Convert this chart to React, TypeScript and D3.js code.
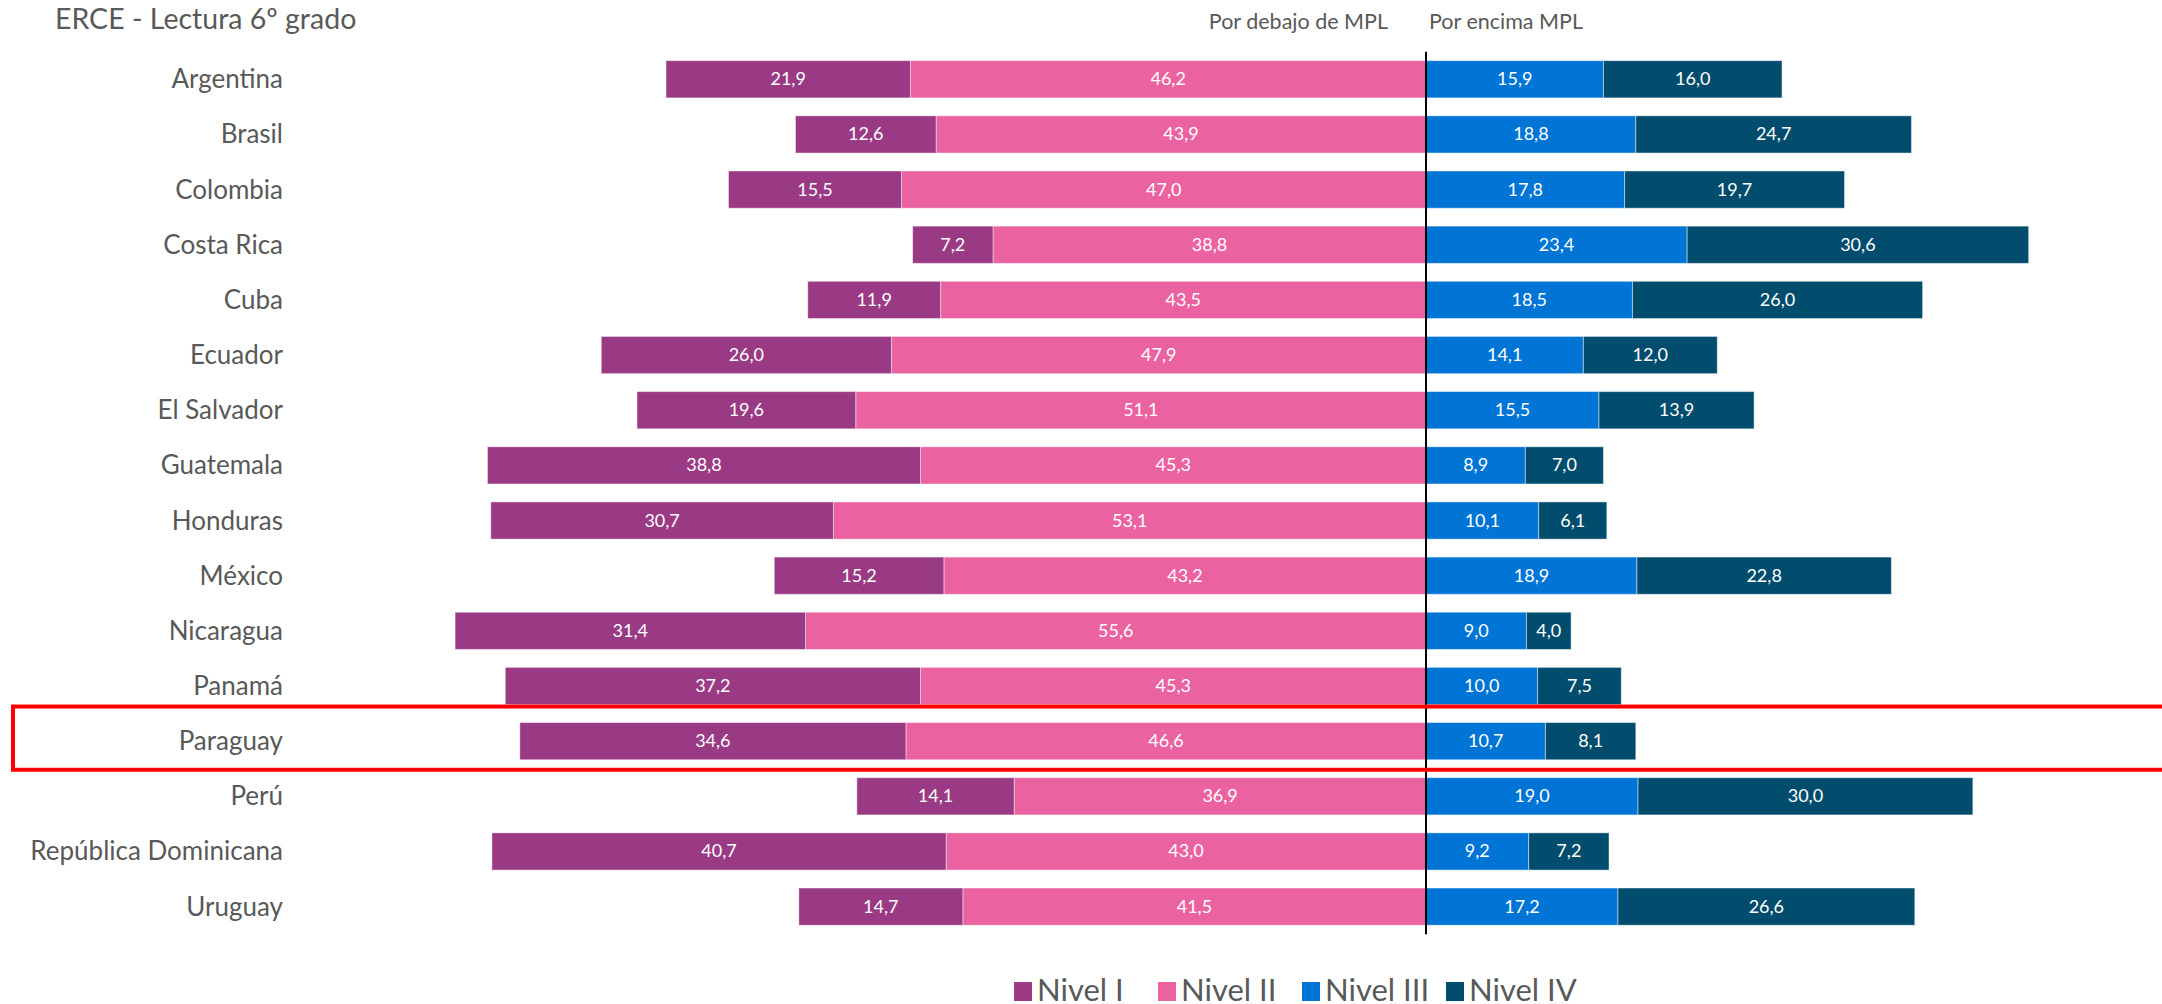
import React from "react";
import * as d3 from "d3";

const countries = [
  "Argentina",
  "Brasil",
  "Colombia",
  "Costa Rica",
  "Cuba",
  "Ecuador",
  "El Salvador",
  "Guatemala",
  "Honduras",
  "México",
  "Nicaragua",
  "Panamá",
  "Paraguay",
  "Perú",
  "República Dominicana",
  "Uruguay",
];

// porcentaje de estudiantes por nivel de desempeño
const nivel1 = [21.9, 12.6, 15.5, 7.2, 11.9, 26.0, 19.6, 38.8, 30.7, 15.2, 31.4, 37.2, 34.6, 14.1, 40.7, 14.7];
const nivel2 = [46.2, 43.9, 47.0, 38.8, 43.5, 47.9, 51.1, 45.3, 53.1, 43.2, 55.6, 45.3, 46.6, 36.9, 43.0, 41.5];
const nivel3 = [15.9, 18.8, 17.8, 23.4, 18.5, 14.1, 15.5, 8.9, 10.1, 18.9, 9.0, 10.0, 10.7, 19.0, 9.2, 17.2];
const nivel4 = [16.0, 24.7, 19.7, 30.6, 26.0, 12.0, 13.9, 7.0, 6.1, 22.8, 4.0, 7.5, 8.1, 30.0, 7.2, 26.6];

const legendLabels = ["Nivel I", "Nivel II", "Nivel III", "Nivel IV"];
const highlighted = "Paraguay";

const W = 2162;
const H = 1004;
const FONT = "Lato, 'Open Sans', sans-serif";
const GREY = "#595959";

const colors: Record<string, string> = {
  n1: "#9a3a85",
  n2: "#eb62a0",
  n3: "#0075d5",
  n4: "#024d6e",
};

export default function App() {
  const rows = countries.map((c, i) => ({
    country: c,
    n1: -nivel1[i],
    n2: -nivel2[i],
    n3: nivel3[i],
    n4: nivel4[i],
  }));

  // nivel II junto al eje, nivel I hacia afuera
  const series = d3
    .stack<any>()
    .keys(["n2", "n1", "n3", "n4"])
    .offset(d3.stackOffsetDiverging)(rows);

  const x = d3.scaleLinear().domain([-90, 60]).range([421.6, 2095.6]);
  const y = d3
    .scaleBand()
    .domain(countries)
    .range([51.7, 934.2])
    .paddingInner(0.325)
    .paddingOuter(0.1625);

  const fmt = (v: number) => d3.format(".1f")(Math.abs(v)).replace(".", ",");
  const bw = y.bandwidth();
  const x0 = x(0);

  const legendX = d3
    .scaleLinear()
    .domain([0, 3])
    .range([1014, 1446]);

  return (
    <svg
      width={W}
      height={H}
      style={{ position: "absolute", left: 0, top: 0, background: "#fff" }}
      fontFamily={FONT}
    >
      <text x={55} y={29} fontSize={28.5} fill={GREY}>
        ERCE - Lectura 6º grado
      </text>
      <text x={x0 - 38} y={29} fontSize={21.5} fill={GREY} textAnchor="end">
        Por debajo de MPL
      </text>
      <text x={x0 + 3} y={29} fontSize={21.5} fill={GREY}>
        Por encima MPL
      </text>

      {countries.map((c) => (
        <text
          key={c}
          x={283}
          y={(y(c) as number) + bw / 2 + 9}
          fontSize={26}
          fill={GREY}
          textAnchor="end"
        >
          {c}
        </text>
      ))}

      {series.map((s) => (
        <g key={s.key} fill={colors[s.key]}>
          {s.map((d: any) => {
            const xa = x(Math.min(d[0], d[1]));
            const xb = x(Math.max(d[0], d[1]));
            const yy = y(d.data.country) as number;
            return (
              <g key={d.data.country}>
                <rect
                  x={xa}
                  y={yy}
                  width={xb - xa}
                  height={bw}
                  stroke="#ffffff"
                  strokeOpacity={0.45}
                  strokeWidth={1}
                />
                <text
                  x={(xa + xb) / 2}
                  y={yy + bw / 2 + 6}
                  fontSize={18}
                  fill="#ffffff"
                  textAnchor="middle"
                >
                  {fmt(d[1] - d[0])}
                </text>
              </g>
            );
          })}
        </g>
      ))}

      <line x1={x0} x2={x0} y1={51.7} y2={934.2} stroke="#000" strokeWidth={2} />

      <rect
        x={13}
        y={(y(highlighted) as number) - 16}
        width={W + 20}
        height={bw + 26}
        fill="none"
        stroke="#ff0000"
        strokeWidth={4}
      />

      {legendLabels.map((l, i) => (
        <g key={l} transform={`translate(${legendX(i)},0)`}>
          <rect x={0} y={982} width={18} height={19} fill={colors["n" + (i + 1)]} />
          <text x={23} y={1001} fontSize={31} fill={GREY}>
            {l}
          </text>
        </g>
      ))}
    </svg>
  );
}
